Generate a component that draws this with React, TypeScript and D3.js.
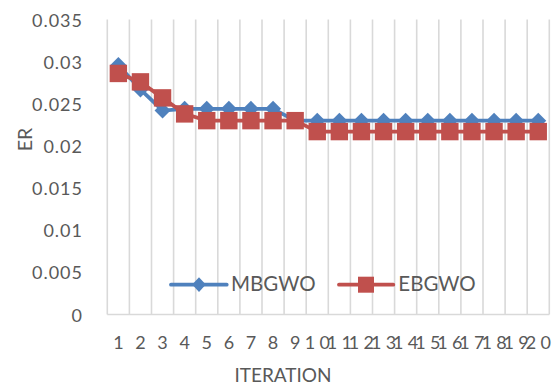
import React from "react";
import * as d3 from "d3";

// Iteration categories shown on the x axis
const categories = [
  "1", "2", "3", "4", "5", "6", "7", "8", "9", "10",
  "11", "12", "13", "14", "15", "16", "17", "18", "19", "20",
];

// Error rate per iteration
const mbgwo = [
  0.0296, 0.0267, 0.0242, 0.0244, 0.0244, 0.0244, 0.0244, 0.0244, 0.023, 0.023,
  0.023, 0.023, 0.023, 0.023, 0.023, 0.023, 0.023, 0.023, 0.023, 0.023,
];
const ebgwo = [
  0.0286, 0.0276, 0.0257, 0.0238, 0.023, 0.023, 0.023, 0.023, 0.023, 0.0217,
  0.0217, 0.0217, 0.0217, 0.0217, 0.0217, 0.0217, 0.0217, 0.0217, 0.0217, 0.0217,
];

const yTicks = [0, 0.005, 0.01, 0.015, 0.02, 0.025, 0.03, 0.035];
const seriesNames = ["MBGWO", "EBGWO"];

const W = 555;
const H = 385;
const plot = { left: 107.3, right: 549.3, top: 19.5, bottom: 314.5 };

const BLUE = "#4F81BD";
const RED = "#C0504D";
const GRID = "#D9D9D9";
const TEXT = "#595959";
const FONT = "Lato, 'Open Sans', sans-serif";

const x = d3
  .scaleBand<string>()
  .domain(categories)
  .range([plot.left, plot.right])
  .padding(0);
const y = d3.scaleLinear().domain([0, 0.035]).range([plot.bottom, plot.top]);
const cx = (c: string) => (x(c) as number) + x.bandwidth() / 2;

const line = d3
  .line<number>()
  .x((_, i) => cx(categories[i]))
  .y((v) => y(v));

const diamond = (px: number, py: number, rx: number, ry: number) =>
  `M${px},${py - ry}L${px + rx},${py}L${px},${py + ry}L${px - rx},${py}Z`;

export default function App() {
  const bounds = [...categories.map((c) => x(c) as number), plot.right];
  const xTickLS = 4.3;
  return (
    <svg
      width={W}
      height={H}
      style={{ position: "absolute", left: 0, top: 0, background: "#fff" }}
      fontFamily={FONT}
    >
      <rect width={W} height={H} fill="#fff" />
      {/* vertical category gridlines */}
      {bounds.map((bx, i) => (
        <line
          key={i}
          x1={bx}
          x2={bx}
          y1={plot.top}
          y2={plot.bottom}
          stroke={GRID}
          strokeWidth={1.6}
        />
      ))}
      {/* x axis line */}
      <line
        x1={plot.left}
        x2={plot.right}
        y1={plot.bottom}
        y2={plot.bottom}
        stroke={GRID}
        strokeWidth={1.6}
      />

      {/* y tick labels */}
      {yTicks.map((t) => (
        <text
          key={t}
          x={83}
          y={y(t)}
          textAnchor="end"
          dominantBaseline="central"
          fontSize={18}
          fill={TEXT}
          letterSpacing={1}
        >
          {d3.format("~g")(t)}
        </text>
      ))}

      {/* x tick labels */}
      {categories.map((c) => (
        <text
          key={c}
          x={cx(c) + xTickLS / 2}
          y={349.3}
          textAnchor="middle"
          fontSize={18}
          fill={TEXT}
          letterSpacing={xTickLS}
        >
          {c}
        </text>
      ))}

      {/* axis titles */}
      <text x={283} y={381.5} textAnchor="middle" fontSize={19} fill={TEXT}>
        ITERATION
      </text>
      <text
        transform={`translate(31.7,139.5) rotate(-90)`}
        textAnchor="middle"
        fontSize={19.5}
        fill={TEXT}
      >
        ER
      </text>

      {/* MBGWO series */}
      <path d={line(mbgwo) || ""} fill="none" stroke={BLUE} strokeWidth={3.8} />
      {mbgwo.map((v, i) => (
        <path key={i} d={diamond(cx(categories[i]), y(v), 8, 8)} fill={BLUE} />
      ))}

      {/* EBGWO series */}
      <path d={line(ebgwo) || ""} fill="none" stroke={RED} strokeWidth={3.8} />
      {ebgwo.map((v, i) => (
        <rect
          key={i}
          x={cx(categories[i]) - 8.7}
          y={y(v) - 8.7}
          width={17.4}
          height={17.4}
          fill={RED}
        />
      ))}

      {/* legend */}
      <g>
        <line x1={171} x2={226.7} y1={284.7} y2={284.7} stroke={BLUE} strokeWidth={3.8} strokeLinecap="round" />
        <path d={diamond(199, 284.6, 6.8, 7.3)} fill={BLUE} />
        <text x={231} y={290.7} fontSize={20.5} fill={TEXT}>
          {seriesNames[0]}
        </text>
        <line x1={339} x2={393.3} y1={284.7} y2={284.7} stroke={RED} strokeWidth={3.8} strokeLinecap="round" />
        <rect x={358} y={276.7} width={16} height={16} fill={RED} />
        <text x={398.3} y={290.7} fontSize={20.5} fill={TEXT}>
          {seriesNames[1]}
        </text>
      </g>
    </svg>
  );
}
